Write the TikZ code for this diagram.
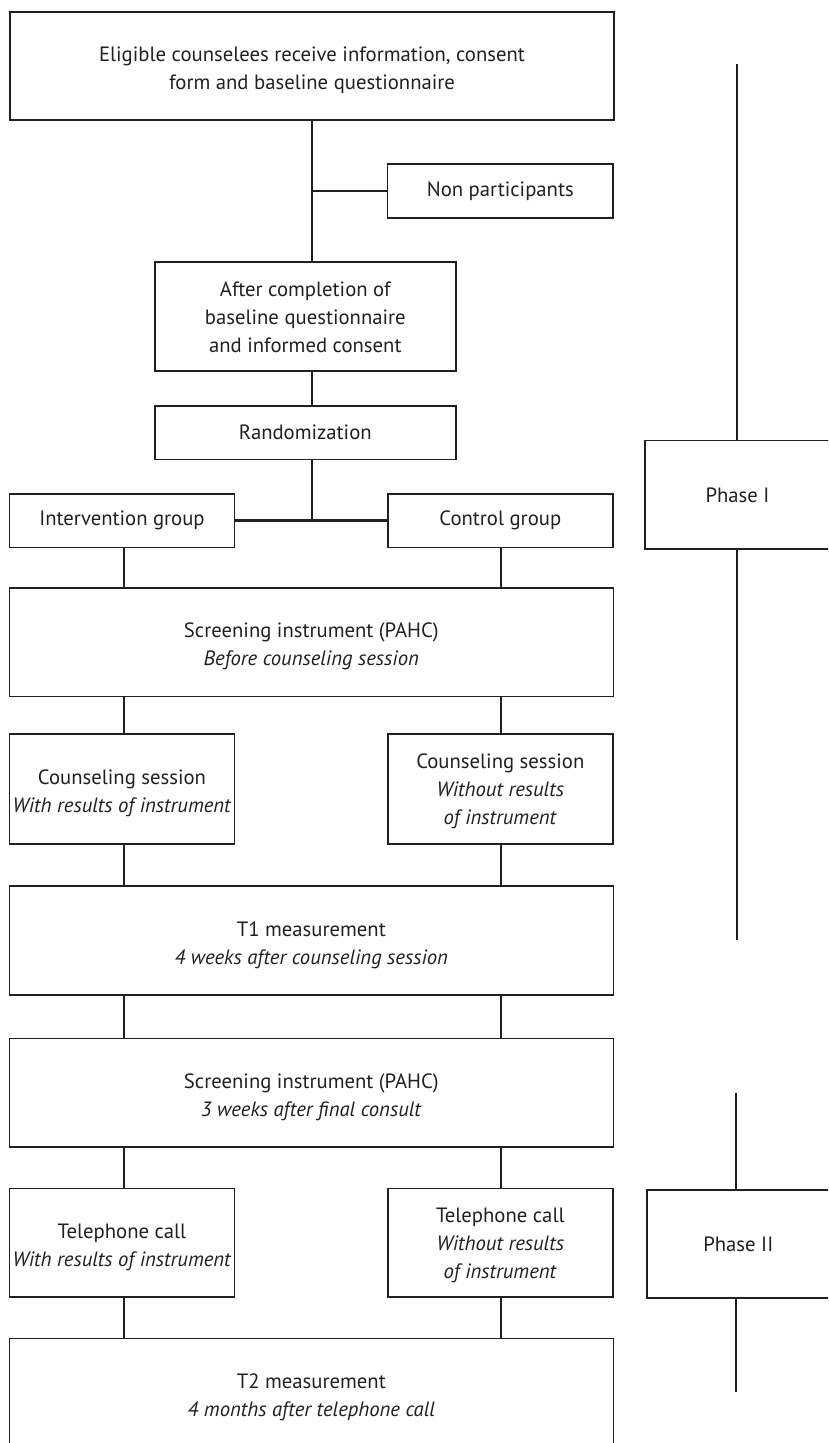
\documentclass[tikz,border=0pt]{standalone}
\usepackage{fontspec}
\setmainfont{PT Sans}
\definecolor{ink}{HTML}{231F20}
\begin{document}
\begin{tikzpicture}[x=1pt,y=-1pt,
  box/.style={draw=ink, line width=1.5pt, inner sep=0pt, align=center, text=ink,
    font=\fontsize{20.7}{28}\selectfont},
  twol/.style={text height=52pt, text depth=5pt},
  threel/.style={text height=76pt, text depth=5pt},
  wide/.style={box, twol, minimum width=604pt, minimum height=108.5pt},
  half/.style={box, twol, minimum width=225pt, minimum height=109pt},
  small/.style={box, minimum width=225pt, minimum height=53.5pt},
  mid/.style={box, minimum width=301pt},
  phasebox/.style={box, minimum width=185pt, minimum height=108.5pt},
  conn/.style={draw=ink, line width=1.6pt},
  branch/.style={draw=ink, line width=2.6pt}]
\clip (0,0) rectangle (828,1443);

% column guides
\coordinate (C) at (312,0);
\coordinate (L) at (124,0);
\coordinate (R) at (501,0);

% main flow
\node[wide, minimum height=108pt] (top) at (312,66) {Eligible counselees receive information, consent\\form and baseline questionnaire};
\node[small, minimum width=225.5pt, minimum height=54pt] (np) at (500.3,191) {Non participants};
\node[mid, threel, minimum height=109pt] (after) at (305.3,316.5) {After completion of\\baseline questionnaire\\and informed consent};
\node[mid, minimum height=53.5pt] (rand) at (305.3,432.5) {Randomization};
\node[small] (ig) at (122,520.5) {Intervention group};
\node[small] (cg) at (500.3,520.5) {Control group};
\node[wide] (scr1) at (311.3,642) {Screening instrument (PAHC)\\\textit{Before counseling session}};
\node[half, minimum height=110pt] (csl) at (122,789) {Counseling session\\\textit{With results of instrument}};
\node[half, threel, minimum height=110pt] (csr) at (500.3,789) {Counseling session\\\textit{Without results}\\\textit{of instrument}};
\node[wide, minimum height=109pt] (t1) at (311.3,940.5) {T1 measurement\\\textit{4 weeks after counseling session}};
\node[wide] (scr2) at (311.3,1092.5) {Screening instrument (PAHC)\\\textit{3 weeks after final consult}};
\node[half, minimum height=108.5pt] (tl) at (122,1242.5) {Telephone call\\\textit{With results of instrument}};
\node[half, threel, minimum height=108.5pt] (tr) at (500.3,1242.5) {Telephone call\\\textit{Without results}\\\textit{of instrument}};
\node[wide, minimum height=109pt] (t2) at (311.3,1393) {T2 measurement\\\textit{4 months after telephone call}};

% phase markers
\node[phasebox] (ph1) at (737.5,494.8) {Phase I};
\node[phasebox, minimum width=183pt, minimum height=108pt] (ph2) at (738.3,1244) {Phase II};
\coordinate (p1a) at (737,64);
\coordinate (p1b) at (737,940);
\coordinate (p2a) at (736,1092.7);
\coordinate (p2b) at (736,1391.7);

% connectors
\draw[conn] (top.south -| C) -- (after.north -| C);
\draw[branch] (np.west -| C) -- (np.west);
\draw[conn] (after.south -| C) -- (rand.north -| C);
\draw[conn] (rand.south -| C) -- (ig.east -| C);
\draw[branch] (ig.east) -- (cg.west);

\draw[conn] (ig.south -| L) -- (scr1.north -| L);
\draw[conn] (cg.south -| R) -- (scr1.north -| R);
\draw[conn] (scr1.south -| L) -- (csl.north -| L);
\draw[conn] (scr1.south -| R) -- (csr.north -| R);
\draw[conn] (csl.south -| L) -- (t1.north -| L);
\draw[conn] (csr.south -| R) -- (t1.north -| R);
\draw[conn] (t1.south -| L) -- (scr2.north -| L);
\draw[conn] (t1.south -| R) -- (scr2.north -| R);
\draw[conn] (scr2.south -| L) -- (tl.north -| L);
\draw[conn] (scr2.south -| R) -- (tr.north -| R);
\draw[conn] (tl.south -| L) -- (t2.north -| L);
\draw[conn] (tr.south -| R) -- (t2.north -| R);

\draw[conn] (p1a) -- (ph1.north -| p1a);
\draw[conn] (ph1.south -| p1b) -- (p1b);
\draw[conn] (p2a) -- (ph2.north -| p2a);
\draw[conn] (ph2.south -| p2b) -- (p2b);
\end{tikzpicture}
\end{document}
